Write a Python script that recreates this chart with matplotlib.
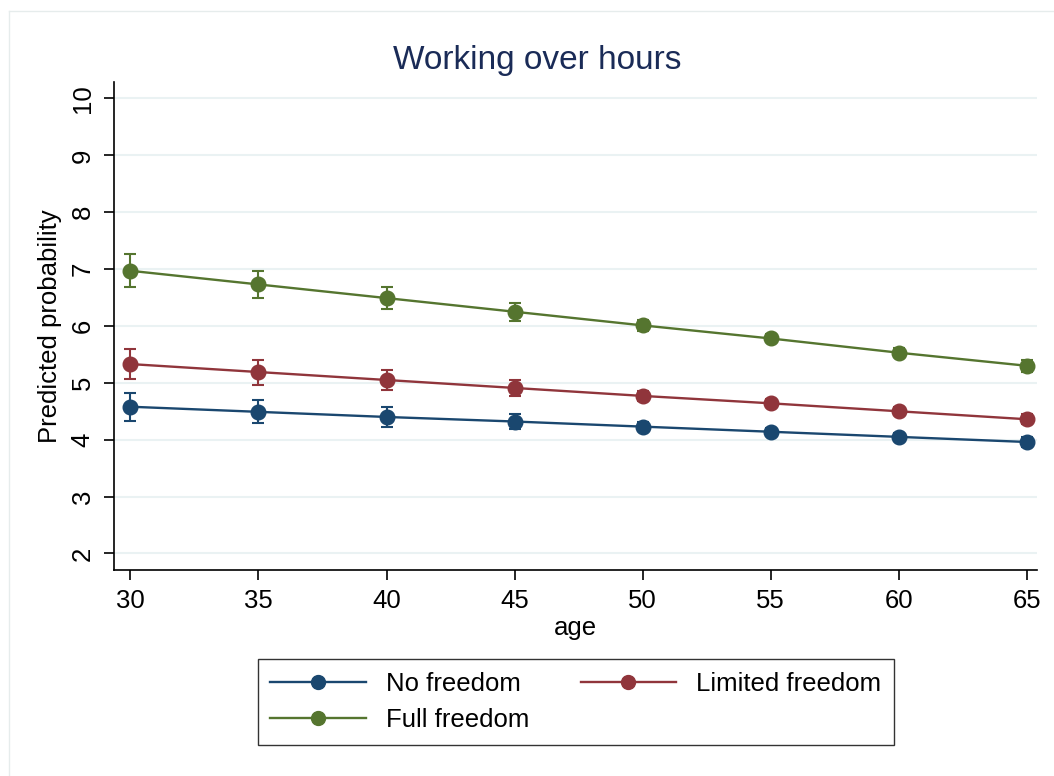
import matplotlib
matplotlib.use("Agg")
import matplotlib.pyplot as plt
from matplotlib.lines import Line2D

plt.rcParams['font.family'] = ['Liberation Sans', 'DejaVu Sans']

# predictive margins by age for each freedom group
ages = [30, 35, 40, 45, 50, 55, 60, 65]
no_freedom = [4.58, 4.49, 4.40, 4.32, 4.23, 4.14, 4.05, 3.96]
no_freedom_ci = [0.25, 0.20, 0.17, 0.13, 0.08, 0.06, 0.06, 0.08]
limited_freedom = [5.33, 5.19, 5.05, 4.91, 4.77, 4.64, 4.50, 4.36]
limited_freedom_ci = [0.27, 0.22, 0.18, 0.14, 0.09, 0.07, 0.07, 0.09]
full_freedom = [6.97, 6.73, 6.49, 6.25, 6.01, 5.78, 5.53, 5.30]
full_freedom_ci = [0.29, 0.24, 0.19, 0.16, 0.09, 0.07, 0.08, 0.11]

series = [
    ("No freedom", no_freedom, no_freedom_ci, "#1a476f"),
    ("Limited freedom", limited_freedom, limited_freedom_ci, "#90353b"),
    ("Full freedom", full_freedom, full_freedom_ci, "#55752f"),
]

yticks = [2, 3, 4, 5, 6, 7, 8, 9, 10]
xticks = [30, 35, 40, 45, 50, 55, 60, 65]

fig = plt.figure(figsize=(10.54, 7.76), dpi=100)
ax = fig.add_axes([0.1082, 0.2655, 0.8757, 0.6289])

# faint outer frame of the graph region
fig.add_artist(Line2D([9 / 1054, 9 / 1054], [1 - 11 / 776, 0], color="#e6ecec", lw=1))
fig.add_artist(Line2D([9 / 1054, 1], [1 - 11 / 776, 1 - 11 / 776], color="#e6ecec", lw=1))

for name, vals, ci, col in series:
    ax.errorbar(ages, vals, yerr=ci, color=col, lw=1.7, marker="o", markersize=10.5,
                capsize=4.5, elinewidth=1.5, capthick=1.5, label=name, zorder=3)

ax.set_xlim(29.36, 65.4)
ax.set_ylim(1.71, 10.29)
ax.set_xticks(xticks)
ax.set_yticks(yticks)
ax.grid(axis="y", color="#eaf2f3", lw=1.5, zorder=0)
ax.set_axisbelow(True)

for side in ("top", "right"):
    ax.spines[side].set_visible(False)
for side in ("left", "bottom"):
    ax.spines[side].set_linewidth(1.2)

ax.tick_params(axis="both", labelsize=18.5, length=7, width=1.2, pad=7)
for lab in ax.get_yticklabels():
    lab.set_rotation(90)
    lab.set_va("center")

ax.set_xlabel("age", fontsize=18.5, labelpad=2)
ax.set_ylabel("Predicted probability", fontsize=18.5, labelpad=6)
fig.text(537 / 1054, 1 - 60 / 776, "Working over hours", fontsize=24, color="#1a2b57",
         ha="center", va="center")

# legend filled row by row: No / Limited on top, Full below
order = [0, 2, 1]
handles = [Line2D([], [], color=series[i][3], lw=1.7, marker="o", markersize=10) for i in order]
labels = [series[i][0] for i in order]
leg = fig.legend(handles, labels, ncol=2, loc="center", bbox_to_anchor=(576 / 1054, 1 - 702 / 776),
                 fontsize=18.5, frameon=True, fancybox=False, edgecolor="black",
                 handlelength=3.7, handletextpad=0.8, columnspacing=2.0,
                 borderpad=0.5, labelspacing=0.45)
leg.get_frame().set_linewidth(1.0)

fig.savefig("out.png", dpi=100, facecolor="white")
